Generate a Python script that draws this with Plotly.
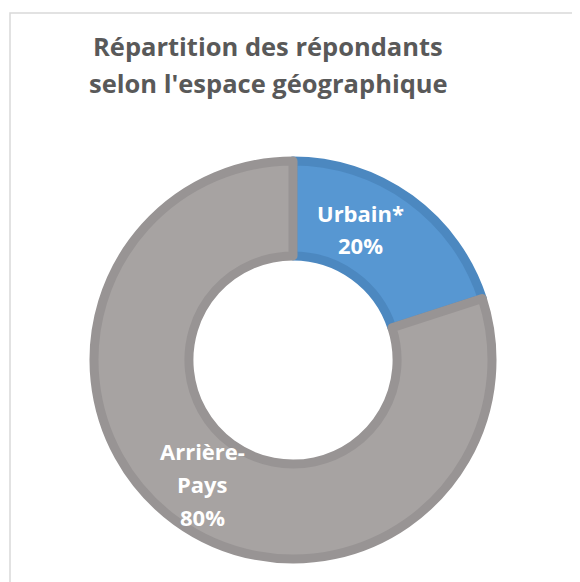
import plotly.graph_objects as go

labels = ["Urbain*", "Arrière-Pays"]
label_lines = [["Urbain*"], ["Arrière-", "Pays"]]
values = [20, 80]

title_lines = ["Répartition des répondants", "selon l'espace géographique"]

fill_colors = ["#5797D2", "#A7A3A2"]
edge_colors = ["#4C88C0", "#989494"]

# page body has an 8px margin, so the figure starts at (8, 8) on screen
OFF = 8
W, H = 580 - OFF, 582 - OFF


def px(sx, sy):
    """screen pixel -> paper coords"""
    return (sx - OFF) / W, 1 - (sy - OFF) / H


cx, cy, r = 293, 360, 199  # donut centre / path radius, screen px
x0, y1 = px(cx - r, cy - r)
x1, y0 = px(cx + r, cy + r)

fig = go.Figure()
fig.add_trace(go.Pie(
    labels=labels,
    values=values,
    hole=0.523,
    sort=False,
    direction="clockwise",
    rotation=0,
    marker=dict(colors=fill_colors, line=dict(color=edge_colors, width=9)),
    textinfo="none",
    hoverinfo="label+percent",
    domain=dict(x=[x0, x1], y=[y0, y1]),
    showlegend=False,
))

total = sum(values)
# label blocks: centre x, first line centre y, line step (screen px)
label_pos = [(360, 213, 32), (203, 451, 33)]
for lines, v, (lx, ly, step) in zip(label_lines, values, label_pos):
    for i, t in enumerate(lines + [f"{v / total:.0%}"]):
        ax, ay = px(lx, ly + i * step)
        fig.add_annotation(text=t, x=ax, y=ay, xref="paper", yref="paper",
                           xanchor="center", yanchor="middle", showarrow=False,
                           font=dict(family="Open Sans", size=22, color="white",
                                     weight="bold"))

for i, t in enumerate(title_lines):
    ax, ay = px(268, 46 + i * 37)
    fig.add_annotation(text=t, x=ax, y=ay, xref="paper", yref="paper",
                       xanchor="center", yanchor="middle", showarrow=False,
                       font=dict(family="Open Sans", size=25.5, color="#595959",
                                 weight="bold"))

# light chart frame (right and bottom edges fall outside the picture)
fx, fy = px(10, 13)
fig.add_shape(type="rect", xref="paper", yref="paper",
              x0=fx, x1=1.05, y0=-0.05, y1=fy,
              line=dict(color="#D9D9D9", width=1.5))

fig.update_layout(
    width=W, height=H,
    margin=dict(l=0, r=0, t=0, b=0),
    paper_bgcolor="white",
)

fig.write_html("out.html")
